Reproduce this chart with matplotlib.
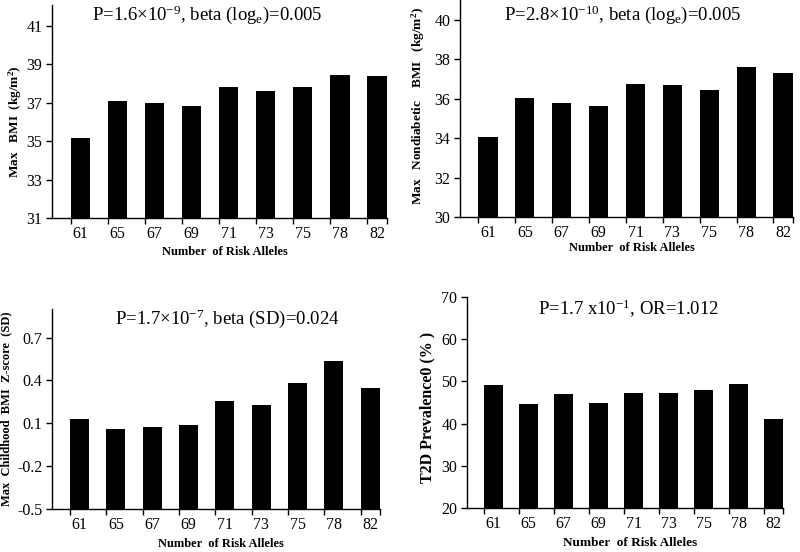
import matplotlib
matplotlib.use("Agg")
import matplotlib.pyplot as plt
import numpy as np

plt.rcParams['font.family'] = ['Liberation Serif', 'DejaVu Serif']
plt.rcParams['mathtext.fontset'] = 'custom'
plt.rcParams['mathtext.rm'] = 'Liberation Serif'
plt.rcParams['mathtext.it'] = 'Liberation Serif:italic'
plt.rcParams['mathtext.bf'] = 'Liberation Serif:bold'

alleles = ["61", "65", "67", "69", "71", "73", "75", "78", "82"]

max_bmi = [35.15, 37.1, 36.97, 36.83, 37.85, 37.64, 37.85, 38.46, 38.4]
max_nondiab_bmi = [34.05, 36.05, 35.8, 35.64, 36.74, 36.7, 36.44, 37.58, 37.28]
child_bmi_z = [0.129, 0.062, 0.076, 0.090, 0.255, 0.227, 0.381, 0.539, 0.350]
t2d_prev = [49.1, 44.7, 47.0, 44.9, 47.2, 47.2, 48.0, 49.4, 41.2]

titles = [r"P=1.6×10$^{-9}$, beta (log$_{\mathrm{e}}$)=0.005",
          r"P=2.8×10$^{-10}$, beta (log$_{\mathrm{e}}$)=0.005",
          r"P=1.7×10$^{-7}$, beta (SD)=0.024",
          r"P=1.7 x10$^{-1}$, OR=1.012"]
ylabels = [r"Max   BMI  (kg/m$^\mathbf{2}$)",
           r"Max   Nondiabetic    BMI   (kg/m$^\mathbf{2}$)",
           "Max  Childhood  BMI  Z-score  (SD)",
           "T2D Prevalence0 (% )"]
xlabel = "Number  of Risk Alleles"

W, H = 800, 552
fig = plt.figure(figsize=(8, 5.52), dpi=100)

def px_axes(left, right, top, bottom):
    return fig.add_axes([left / W, 1 - bottom / H, (right - left) / W, (bottom - top) / H])

panels = [
    dict(box=(52, 387, 5, 218), data=max_bmi, ylim=(31, 42.1), ticks=np.arange(31, 42, 2),
         fmt="{:.0f}", title_xy=(207, 15), ylab_x=15, ylab_y=122, ylab_fs=9.5, xlab_y=252, xlab_fs=9),
    dict(box=(460, 793, 0, 217), data=max_nondiab_bmi, ylim=(30, 41), ticks=np.arange(30, 41, 2),
         fmt="{:.0f}", title_xy=(623, 15), ylab_x=418, ylab_y=106, ylab_fs=9.5, xlab_y=248, xlab_fs=9),
    dict(box=(52, 380, 309, 509), data=child_bmi_z, ylim=(-0.5, 0.9), ticks=[-0.5, -0.2, 0.1, 0.4, 0.7],
         fmt="{:.1f}", title_xy=(227, 319), ylab_x=6, ylab_y=409, ylab_fs=9, xlab_y=544, xlab_fs=9),
    dict(box=(467, 783, 297, 508), data=t2d_prev, ylim=(20, 70), ticks=np.arange(20, 71, 10),
         fmt="{:.0f}", title_xy=(629, 309), ylab_x=427, ylab_y=407, ylab_fs=11.5, xlab_y=543, xlab_fs=9.5),
]

bw = 0.52
x = np.arange(len(alleles))
for i, p in enumerate(panels):
    l, r, t, b = p['box']
    ax = px_axes(l, r, t, b)
    lo = p['ylim'][0]
    vals = np.array(p['data'])
    ax.bar(x, vals - lo, bottom=lo, width=bw, color='black', edgecolor='black', linewidth=0)
    ax.set_xlim(-0.76, 8.27)
    ax.set_ylim(*p['ylim'])
    ax.set_yticks(p['ticks'])
    ax.set_yticklabels([p['fmt'].format(v) for v in p['ticks']], fontsize=11.5)
    ax.set_xticks(x)
    ax.set_xticklabels(alleles, fontsize=11.5)
    ax.set_xticks(list(x - bw / 2) + [8.27], minor=True)
    ax.tick_params(axis='x', which='major', length=0, pad=6)
    ax.tick_params(axis='x', which='minor', length=4, direction='out', width=1)
    ax.tick_params(axis='y', length=4, direction='out', width=1, pad=3)
    for s in ['top', 'right']:
        ax.spines[s].set_visible(False)
    for s in ['left', 'bottom']:
        ax.spines[s].set_linewidth(1.0)
    tx, ty = p['title_xy']
    fig.text(tx / W, 1 - ty / H, titles[i], ha='center', va='center', fontsize=13.5)
    fig.text(p['ylab_x'] / W, 1 - p['ylab_y'] / H, ylabels[i], ha='center', va='center',
             rotation=90, fontsize=p['ylab_fs'], fontweight='bold')
    fig.text(((l + r) / 2 + 5) / W, 1 - p['xlab_y'] / H, xlabel, ha='center', va='center',
             fontsize=p['xlab_fs'], fontweight='bold')

fig.savefig("out.png", dpi=100)
